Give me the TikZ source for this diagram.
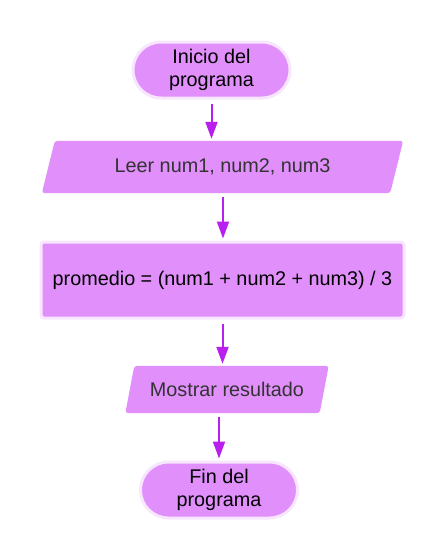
\documentclass[tikz,border=0pt]{standalone}
\usepackage{fontspec}
\setmainfont{Liberation Sans}
\usetikzlibrary{arrows.meta,backgrounds}
\definecolor{boxfill}{RGB}{224,143,251}
\definecolor{boxhalo}{RGB}{247,230,253}
\definecolor{flow}{RGB}{184,32,238}
\definecolor{iotext}{RGB}{51,51,51}
\begin{document}
\begin{tikzpicture}[x=1pt,y=-1pt,
  every node/.style={font=\fontsize{19.8}{22.5}\selectfont, align=center, inner sep=0pt},
  terminal/.style={fill=boxfill, draw=boxhalo, line width=3pt, rounded corners=28pt,
    minimum width=157pt, minimum height=56pt},
  process/.style={fill=boxfill, draw=boxhalo, line width=3pt, rounded corners=3pt,
    minimum width=363pt, minimum height=76pt},
  iobox/.style={text=iotext, minimum height=#1},
  slantfill/.style={fill=boxfill, rounded corners=3pt},
  flowline/.style={draw=flow, line width=2pt, -{Triangle[width=12pt,length=17pt]},
    shorten <=4pt, shorten >=2pt}]
  \useasboundingbox (0,0) rectangle (446,560);

  % start / end terminals
  \node[terminal] (start) at (211.5,70) {Inicio del\\programa};
  \node[terminal] (fin) at (219,490) {Fin del\\programa};

  % input / output boxes (text nodes; the slanted shapes go behind them)
  \node[iobox=52pt, minimum width=348pt] (leer) at (222.5,167) {Leer num1, num2, num3};
  \node[iobox=47pt, minimum width=194pt] (mostrar) at (227,389.5) {Mostrar resultado};

  % process box
  \node[process] (calc) at (222.5,280) {promedio = (num1 + num2 + num3) / 3};

  \begin{pgfonlayer}{background}
    \fill[slantfill] ([xshift=6.5pt]leer.north west) -- ([xshift=6.5pt]leer.north east)
      -- ([xshift=-6.5pt]leer.south east) -- ([xshift=-6.5pt]leer.south west) -- cycle;
    \fill[slantfill] ([xshift=4.5pt]mostrar.north west) -- ([xshift=4.5pt]mostrar.north east)
      -- ([xshift=-4.5pt]mostrar.south east) -- ([xshift=-4.5pt]mostrar.south west) -- cycle;
  \end{pgfonlayer}

  % connectors
  \draw[flowline] (start.south) -- (start.south |- leer.north);
  \draw[flowline] ([xshift=0.5pt]leer.south) -- ([xshift=0.5pt]leer.south |- calc.north);
  \draw[flowline] (calc.south) -- (calc.south |- mostrar.north);
  \draw[flowline] (fin.north |- mostrar.south) -- (fin.north);
\end{tikzpicture}
\end{document}
